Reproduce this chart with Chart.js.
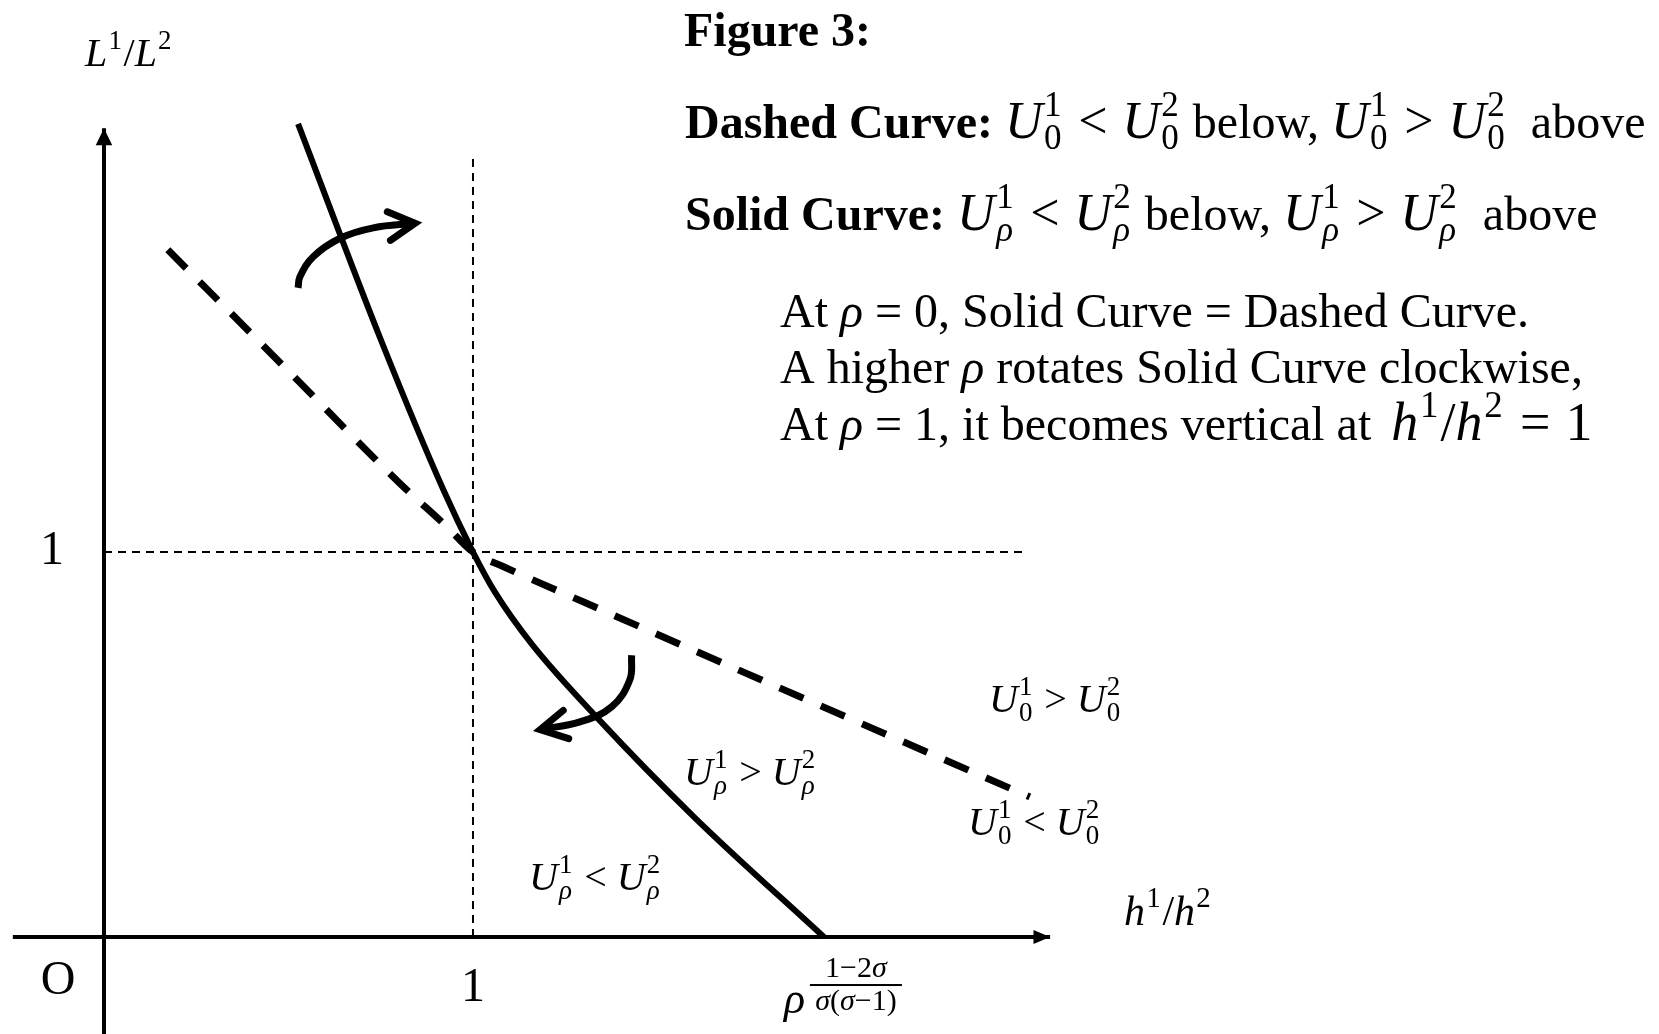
<!DOCTYPE html>
<html>
<head>
<meta charset="utf-8">
<script src="https://cdn.jsdelivr.net/npm/chart.js@4.4.0/dist/chart.umd.min.js"></script>
<style>
html, body { margin: 0; padding: 0; background: #fff; }
canvas { display: block; }
</style>
</head>
<body>
<canvas id="figChart" width="1659" height="1034"></canvas>
<script>
// 坐标轴 (横轴 h1/h2, 纵轴 L1/L2)
var xAxisX = [-0.247, 2.564];
var xAxisY = [0, 0];
var yAxisX = [0, 0];
var yAxisY = [-0.26, 2.101];

// 参考虚线 x = 1, y = 1
var guideVX = [1, 1];
var guideVY = [0, 2.034];
var guideHX = [0, 2.49];
var guideHY = [1, 1];

// 虚线曲线 (rho = 0)
var dashedX = [0.173, 0.5, 0.8, 0.93, 1.0, 1.08, 1.3, 1.8, 2.509];
var dashedY = [1.785, 1.47, 1.18, 1.065, 1.0, 0.963, 0.87, 0.66, 0.364];

// 实线曲线 (rho > 0)
var solidX = [0.526, 0.75, 0.92, 1.0, 1.06, 1.16, 1.34, 1.6, 1.951];
var solidY = [2.112, 1.552, 1.161, 1.0, 0.895, 0.76, 0.566, 0.311, 0];

// 旋转箭头 (上: 顺时针向右, 下: 向左)
var arrowUpX = [0.526, 0.531, 0.567, 0.640, 0.730, 0.843];
var arrowUpY = [1.686, 1.715, 1.767, 1.815, 1.842, 1.854];
var arrowDnX = [1.430, 1.425, 1.376, 1.290, 1.182];
var arrowDnY = [0.732, 0.668, 0.598, 0.559, 0.539];

function pts(xs, ys) {
    return xs.map(function (x, i) { return { x: x, y: ys[i] }; });
}

function fnt(style, size) {
    return style + ' ' + size + 'px "Liberation Serif", "Times New Roman", serif';
}

// 富文本: 字符串=正文, {b}=粗体, {i}=斜体, {v,sub,sup}=上下标, {r}=关系符, {m}=公式正体, {gap}=空白
function richText(ctx, x, y, parts, size, msize, dry) {
    msize = msize || size;
    var x0 = x;
    ctx.textAlign = 'left';
    ctx.textBaseline = 'alphabetic';
    function put(txt, style, sz, yy) {
        ctx.font = fnt(style, sz);
        if (!dry) ctx.fillText(txt, x, yy === undefined ? y : yy);
        return ctx.measureText(txt).width;
    }
    parts.forEach(function (p) {
        if (typeof p === 'string') {
            x += put(p, 'normal', size);
        } else if (p.gap) {
            x += p.gap;
        } else if (p.b) {
            x += put(p.b, 'bold', size);
        } else if (p.i) {
            x += put(p.i, 'italic', size);
        } else if (p.m) {
            x += put(p.m, 'normal', msize);
        } else if (p.r) {
            x += msize * 0.28;
            x += put(p.r, 'normal', msize);
            x += msize * 0.28;
        } else if (p.v) {
            x += put(p.v, 'italic', msize) + msize * 0.03;
            var ss = Math.round(msize * 0.68);
            var w = 0;
            if (p.sup) w = Math.max(w, put(p.sup, /\d/.test(p.sup) ? 'normal' : 'italic', ss, y - msize * 0.42));
            if (p.sub) w = Math.max(w, put(p.sub, /\d/.test(p.sub) ? 'normal' : 'italic', ss, y + msize * 0.22));
            x += w + msize * 0.04;
        }
    });
    return x - x0;
}

function centerText(ctx, cx, y, parts, size) {
    var w = richText(ctx, 0, y, parts, size, size, true);
    richText(ctx, cx - w / 2, y, parts, size);
}

function arrowHead(ctx, tip, from, len, half, filled) {
    var a = Math.atan2(tip.y - from.y, tip.x - from.x);
    var p1 = { x: tip.x - len * Math.cos(a - half), y: tip.y - len * Math.sin(a - half) };
    var p2 = { x: tip.x - len * Math.cos(a + half), y: tip.y - len * Math.sin(a + half) };
    ctx.beginPath();
    ctx.moveTo(p1.x, p1.y);
    ctx.lineTo(tip.x, tip.y);
    ctx.lineTo(p2.x, p2.y);
    if (filled) {
        ctx.closePath();
        ctx.fill();
    } else {
        ctx.lineWidth = 7;
        ctx.lineCap = 'round';
        ctx.lineJoin = 'miter';
        ctx.stroke();
    }
}

var U = function (sub, sup) { return { v: 'U', sub: sub, sup: sup }; };

var labelPlugin = {
    id: 'labels',
    afterDatasetsDraw: function (chart) {
        var ctx = chart.ctx;
        var sx = chart.scales.x, sy = chart.scales.y;
        function px(x, y) { return { x: sx.getPixelForValue(x), y: sy.getPixelForValue(y) }; }
        ctx.save();
        ctx.fillStyle = '#000';
        ctx.strokeStyle = '#000';

        // 坐标轴箭头
        var n = xAxisX.length - 1;
        arrowHead(ctx, px(xAxisX[n], xAxisY[n]), px(xAxisX[0], xAxisY[0]), 18, 0.4, true);
        n = yAxisX.length - 1;
        arrowHead(ctx, px(yAxisX[n], yAxisY[n]), px(yAxisX[0], yAxisY[0]), 19, 0.45, true);

        // 旋转箭头
        n = arrowUpX.length - 1;
        arrowHead(ctx, px(arrowUpX[n], arrowUpY[n]), px(arrowUpX[n - 1], arrowUpY[n - 1]), 30, 0.5, false);
        n = arrowDnX.length - 1;
        arrowHead(ctx, px(arrowDnX[n], arrowDnY[n]), px(arrowDnX[n - 1], arrowDnY[n - 1]), 30, 0.5, false);

        // 标题与说明
        var s = 48;
        richText(ctx, 684, 46, [{ b: 'Figure 3:' }], s);
        richText(ctx, 685, 138, [{ b: 'Dashed Curve: ' }, U('0', '1'), { r: '<' }, U('0', '2'),
            ' below, ', U('0', '1'), { r: '>' }, U('0', '2'), '  above'], s, 52);
        richText(ctx, 685, 230, [{ b: 'Solid Curve: ' }, U('ρ', '1'), { r: '<' }, U('ρ', '2'),
            ' below, ', U('ρ', '1'), { r: '>' }, U('ρ', '2'), '  above'], s, 52);
        richText(ctx, 780, 327, ['At ', { i: 'ρ' }, ' = 0, Solid Curve = Dashed Curve.'], s);
        richText(ctx, 780, 383, ['A higher ', { i: 'ρ' }, ' rotates Solid Curve clockwise,'], s);
        richText(ctx, 780, 440, ['At ', { i: 'ρ' }, ' = 1, it becomes vertical at ', { gap: 8 }, { v: 'h', sup: '1' }, { m: '/' },
            { v: 'h', sup: '2' }, { r: '=' }, { m: '1' }], s, 54);

        // 轴标签
        richText(ctx, 85, 66, [{ v: 'L', sup: '1' }, '/', { v: 'L', sup: '2' }], 40);
        richText(ctx, 1124, 925, [{ v: 'h', sup: '1' }, '/', { v: 'h', sup: '2' }], 42);

        // 刻度
        ctx.font = fnt('normal', 48);
        ctx.textAlign = 'center';
        var o = px(0, 0), one = px(1, 1);
        ctx.fillText('1', o.x - 52, one.y + 12);
        ctx.fillText('O', o.x - 46, o.y + 57);
        ctx.fillText('1', one.x, o.y + 64);

        // rho 的分数指数
        var e = px(solidX[solidX.length - 1], 0);
        ctx.textAlign = 'left';
        ctx.font = fnt('italic', 44);
        ctx.fillText('ρ', e.x - 40, o.y + 76);
        ctx.fillRect(e.x - 14, o.y + 47, 92, 2);
        centerText(ctx, e.x + 32, o.y + 40, ['1−2', { i: 'σ' }], 30);
        centerText(ctx, e.x + 32, o.y + 73, [{ i: 'σ' }, '(', { i: 'σ' }, '−1)'], 30);

        // 区域标签
        var m = 40;
        richText(ctx, 989, 712, [U('0', '1'), ' > ', U('0', '2')], m);
        richText(ctx, 968, 835, [U('0', '1'), ' < ', U('0', '2')], m);
        richText(ctx, 684, 785, [U('ρ', '1'), ' > ', U('ρ', '2')], m);
        richText(ctx, 529, 890, [U('ρ', '1'), ' < ', U('ρ', '2')], m);
        ctx.restore();
    }
};

var black = '#000';
var figChart = new Chart(document.getElementById('figChart').getContext('2d'), {
    type: 'scatter',
    data: {
        datasets: [
            { data: pts(guideVX, guideVY), showLine: true, borderColor: black, borderWidth: 2, borderDash: [8, 6], pointRadius: 0 },
            { data: pts(guideHX, guideHY), showLine: true, borderColor: black, borderWidth: 2, borderDash: [8, 6], pointRadius: 0 },
            { data: pts(xAxisX, xAxisY), showLine: true, borderColor: black, borderWidth: 4, pointRadius: 0 },
            { data: pts(yAxisX, yAxisY), showLine: true, borderColor: black, borderWidth: 4, pointRadius: 0 },
            {
                data: pts(dashedX, dashedY), showLine: true, borderColor: black, borderWidth: 7,
                borderDash: [26, 19], cubicInterpolationMode: 'monotone', pointRadius: 0
            },
            { data: pts(solidX, solidY), showLine: true, borderColor: black, borderWidth: 6, cubicInterpolationMode: 'monotone', pointRadius: 0 },
            { data: pts(arrowUpX, arrowUpY), showLine: true, borderColor: black, borderWidth: 7, tension: 0.4, pointRadius: 0 },
            { data: pts(arrowDnX, arrowDnY), showLine: true, borderColor: black, borderWidth: 7, tension: 0.4, pointRadius: 0 }
        ]
    },
    options: {
        responsive: false,
        devicePixelRatio: 1,
        animation: false,
        events: [],
        layout: { padding: 0 },
        plugins: {
            legend: { display: false },
            tooltip: { enabled: false }
        },
        scales: {
            x: { type: 'linear', display: false, min: -0.2818, max: 4.2141 },
            y: { type: 'linear', display: false, min: -0.2519, max: 2.4338 }
        }
    },
    plugins: [labelPlugin]
});
</script>
</body>
</html>
